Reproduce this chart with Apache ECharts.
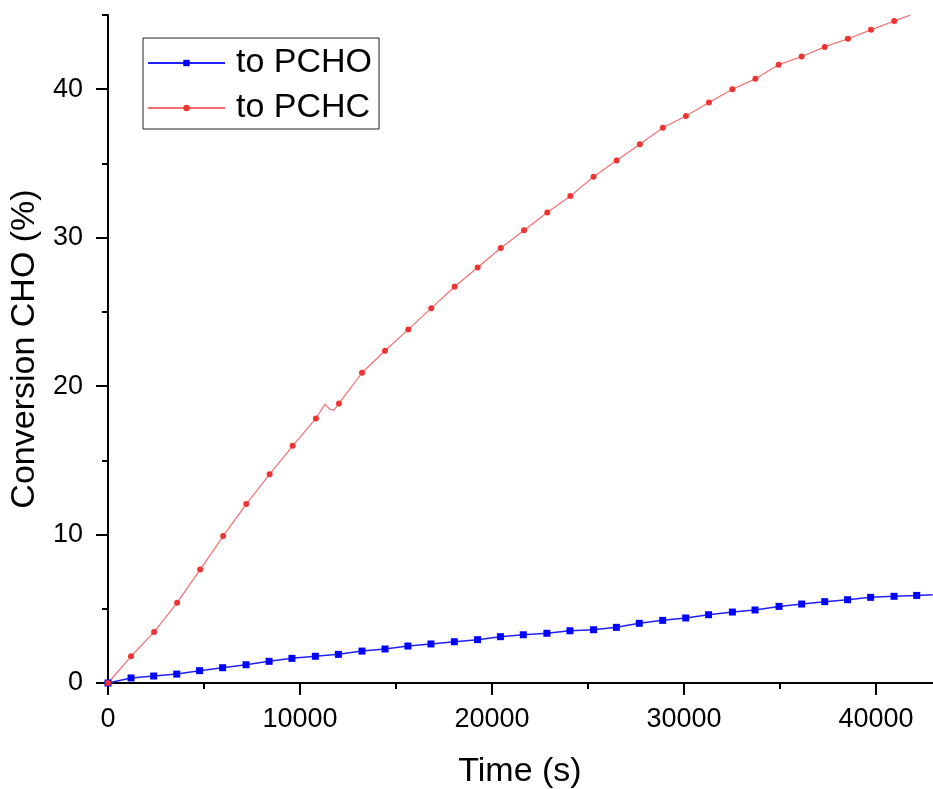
<!DOCTYPE html>
<html>
<head>
    <meta charset="utf-8" />
    <title></title>
    <script src="https://cdn.jsdelivr.net/npm/echarts@6/dist/echarts.min.js"></script>
    <style>
        html, body { margin: 0; padding: 0; background: #fff; }
    </style>
</head>
<body>
    <div id="main" style="width: 933px;height:789px;"></div>
    <script type="text/javascript">
        // time (s) and conversion (%), one entry per marker
        var pchoTime = [0, 1200, 2380, 3580, 4770, 5970, 7190, 8390, 9580, 10800, 12000, 13230, 14430, 15620, 16820, 18040, 19250, 20440,
            21630, 22860, 24060, 25290, 26480, 27670, 28890, 30090, 31280, 32520, 33700, 34950, 36130, 37330, 38520, 39720, 40940, 42120];
        var pchoConv = [0, 0.34, 0.47, 0.6, 0.83, 1.03, 1.23, 1.46, 1.66, 1.8, 1.93, 2.15, 2.29, 2.49, 2.63, 2.78, 2.92, 3.12,
            3.25, 3.35, 3.52, 3.59, 3.75, 4.02, 4.22, 4.38, 4.6, 4.78, 4.92, 5.16, 5.32, 5.48, 5.61, 5.77, 5.84, 5.9];
        // line continues past the last marker
        var pchoTailTime = [42950];
        var pchoTailConv = [5.95];

        var pchcTime = [0, 1200, 2400, 3600, 4800, 6000, 7200, 8420, 9620, 10830, 12030, 13230, 14430, 15640, 16840, 18050, 19250,
            20460, 21670, 22880, 24080, 25290, 26490, 27700, 28900, 30100, 31300, 32520, 33720, 34930, 36130, 37330, 38540, 39740, 40950];
        var pchcConv = [0, 1.8, 3.43, 5.41, 7.64, 9.9, 12.05, 14.07, 15.98, 17.82, 18.83, 20.9, 22.38, 23.82, 25.25, 26.69, 27.99,
            29.3, 30.5, 31.7, 32.8, 34.1, 35.2, 36.3, 37.4, 38.2, 39.1, 40.0, 40.7, 41.65, 42.2, 42.85, 43.4, 44.0, 44.6];
        // unmarked points: the glitch near 11500 s and the end of the trace
        var pchcExtraTime = [11300, 11560, 11770, 41800];
        var pchcExtraConv = [18.79, 18.43, 18.38, 45.0];

        var xTicks = [0, 10000, 20000, 30000, 40000];
        var yTicks = [0, 10, 20, 30, 40];

        function buildData(t, v, et, ev) {
            var pts = [];
            for (var i = 0; i < t.length; i++) pts.push({ value: [t[i], v[i]] });
            for (var j = 0; j < et.length; j++) pts.push({ value: [et[j], ev[j]], symbol: 'none' });
            pts.sort(function (a, b) { return a.value[0] - b.value[0]; });
            return pts;
        }

        var font = '"Liberation Sans", Arial, sans-serif';
        var myChart = echarts.init(document.getElementById('main'));

        myChart.setOption({
            animation: false,
            backgroundColor: '#fff',
            grid: [
                // axis runs past the right edge of the picture (50000 s)
                { left: 108, right: -135, top: 15, bottom: 106, outerBoundsMode: 'none' },
                // same scale, only to draw the long ticks at 0..40
                { left: 108, right: -135, top: 89, bottom: 106, outerBoundsMode: 'none' }
            ],
            legend: {
                orient: 'vertical',
                left: 143,
                top: 38,
                padding: [8, 7, 4, 4],
                borderColor: '#222',
                borderWidth: 1,
                itemWidth: 77,
                itemHeight: 8,
                itemGap: 11,
                textStyle: { fontFamily: font, fontSize: 34, color: '#000', padding: [0, 0, 0, 6] },
                data: ['to PCHO', 'to PCHC']
            },
            xAxis: [{
                type: 'value',
                gridIndex: 0,
                min: 0,
                max: 50000,
                interval: 10000,
                name: 'Time (s)',
                nameLocation: 'middle',
                nameGap: 72,
                // centre the title on the visible part of the axis
                nameTextStyle: { fontFamily: font, fontSize: 34, color: '#000', padding: [0, 136, 0, 0] },
                axisLine: { onZero: false, lineStyle: { color: '#000', width: 2 } },
                axisTick: { length: 12, lineStyle: { color: '#000', width: 2 } },
                minorTick: { show: true, splitNumber: 2, length: 6, lineStyle: { color: '#000', width: 2 } },
                axisLabel: {
                    fontFamily: font, fontSize: 27, color: '#000', margin: 23,
                    formatter: function (v) { return xTicks.indexOf(v) >= 0 ? String(v) : ''; }
                },
                splitLine: { show: false }
            }, {
                type: 'value',
                gridIndex: 1,
                min: 0,
                max: 50000,
                show: false
            }],
            yAxis: [{
                type: 'value',
                gridIndex: 0,
                min: 0,
                max: 45,
                interval: 5,
                name: 'Conversion CHO (%)',
                nameLocation: 'middle',
                nameGap: 59,
                nameTextStyle: { fontFamily: font, fontSize: 34, color: '#000' },
                axisLine: { onZero: false, lineStyle: { color: '#000', width: 2 } },
                axisTick: { length: 6, lineStyle: { color: '#000', width: 2 } },
                axisLabel: {
                    fontFamily: font, fontSize: 27, color: '#000', margin: 25,
                    formatter: function (v) { return yTicks.indexOf(v) >= 0 ? String(v) : ''; }
                },
                splitLine: { show: false }
            }, {
                type: 'value',
                gridIndex: 1,
                min: 0,
                max: 40,
                interval: 10,
                axisLine: { show: false },
                axisTick: { show: true, length: 12, lineStyle: { color: '#000', width: 2 } },
                axisLabel: { show: false },
                splitLine: { show: false }
            }],
            series: [{
                name: 'to PCHO',
                type: 'line',
                xAxisIndex: 0,
                yAxisIndex: 0,
                symbol: 'rect',
                symbolSize: 7,
                showAllSymbol: true,
                lineStyle: { color: '#2020ff', width: 1.5 },
                itemStyle: { color: '#0000ff' },
                data: buildData(pchoTime, pchoConv, pchoTailTime, pchoTailConv)
            }, {
                name: 'to PCHC',
                type: 'line',
                xAxisIndex: 0,
                yAxisIndex: 0,
                symbol: 'circle',
                symbolSize: 6,
                showAllSymbol: true,
                lineStyle: { color: '#f47070', width: 1.2 },
                itemStyle: { color: '#ee3333' },
                data: buildData(pchcTime, pchcConv, pchcExtraTime, pchcExtraConv)
            }]
        });
    </script>
</body>
</html>
